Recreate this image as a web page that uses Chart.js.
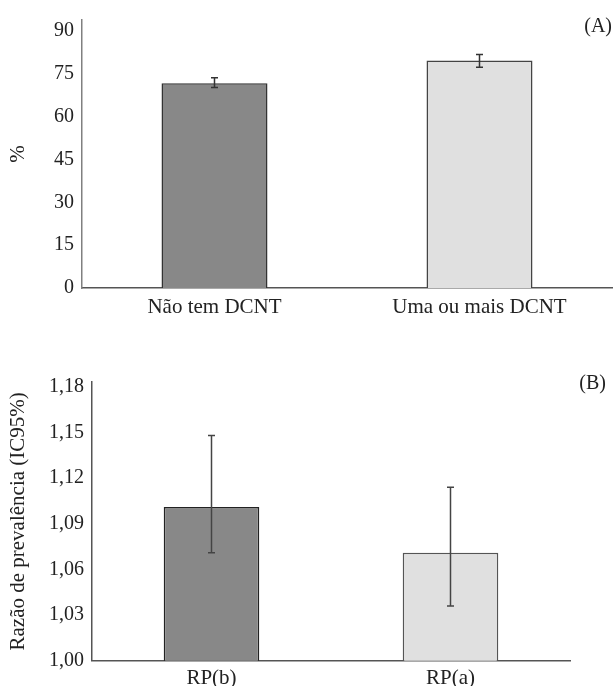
<!DOCTYPE html>
<html>
<head>
<meta charset="utf-8">
<script src="https://cdn.jsdelivr.net/npm/chart.js@4/dist/chart.umd.min.js"></script>
<style>
  html, body { margin: 0; padding: 0; background: #fff; }
  #wrapA { position: absolute; left: 0; top: 0; width: 614px; height: 330px; }
  #wrapB { position: absolute; left: 0; top: 330px; width: 614px; height: 356px; }
</style>
</head>
<body>
<div id="wrapA"><canvas id="chartA"></canvas></div>
<div id="wrapB"><canvas id="chartB"></canvas></div>
<script>
// ---- Data (panel A) ----
const categoriesA = ["Não tem DCNT", "Uma ou mais DCNT"];
const valuesA = [71.7, 79.6];
const lowerA = [70.2, 77.3];
const upperA = [73.6, 81.7];
const yTicksA = [0, 15, 30, 45, 60, 75, 90];
const yTitleA = "%";
const panelA = "(A)";

// ---- Data (panel B) ----
const categoriesB = ["RP(b)", "RP(a)"];
const valuesB = [1.101, 1.071];
const lowerB = [1.071, 1.036];
const upperB = [1.148, 1.114];
const yTicksB = [1.00, 1.03, 1.06, 1.09, 1.12, 1.15, 1.18];
const yTitleB = "Razão de prevalência (IC95%)";
const panelB = "(B)";

Chart.defaults.font.family = "'Liberation Serif', 'Times New Roman', serif";
Chart.defaults.font.size = 19;
Chart.defaults.color = "#222";

const errorBars = {
  id: 'errorBars',
  afterDatasetsDraw(chart, args, opts) {
    const ctx = chart.ctx;
    const meta = chart.getDatasetMeta(0);
    const y = chart.scales.y;
    ctx.save();
    ctx.strokeStyle = opts.color;
    ctx.lineWidth = 1.5;
    meta.data.forEach((bar, i) => {
      const x = bar.x;
      const yl = y.getPixelForValue(opts.lower[i]);
      const yu = y.getPixelForValue(opts.upper[i]);
      ctx.beginPath();
      ctx.moveTo(x, yl); ctx.lineTo(x, yu);
      ctx.moveTo(x - 3.5, yl); ctx.lineTo(x + 3.5, yl);
      ctx.moveTo(x - 3.5, yu); ctx.lineTo(x + 3.5, yu);
      ctx.stroke();
    });
    ctx.restore();
  }
};

const panelLabel = {
  id: 'panelLabel',
  afterDraw(chart, args, opts) {
    const ctx = chart.ctx;
    ctx.save();
    ctx.font = "20px 'Liberation Serif', serif";
    ctx.fillStyle = "#222";
    ctx.textAlign = "right";
    ctx.textBaseline = "middle";
    ctx.fillText(opts.text, chart.width - opts.right, opts.y);
    ctx.restore();
  }
};

function makeChart(id, cats, vals, lo, hi, ticks, yMin, yMax, title, label, cfg) {
  return new Chart(document.getElementById(id), {
    type: 'bar',
    data: {
      labels: cats,
      datasets: [{
        data: vals,
        backgroundColor: ['#888888', '#e0e0e0'],
        borderColor: cfg.barBorders,
        borderWidth: 1.5,
        categoryPercentage: 0.8,
        barPercentage: 0.5
      }]
    },
    options: {
      responsive: true,
      maintainAspectRatio: false,
      animation: false,
      layout: { padding: cfg.padding },
      plugins: {
        legend: { display: false },
        tooltip: { enabled: false },
        errorBars: { lower: lo, upper: hi, color: cfg.errColor },
        panelLabel: { text: label, right: cfg.labelRight, y: cfg.labelY }
      },
      scales: {
        x: {
          grid: { display: false, drawTicks: false },
          border: { color: '#555', width: 1.5 },
          ticks: { padding: cfg.xPad, color: '#222', font: { size: 21 } },
          afterFit(s) { s.height = cfg.xHeight; }
        },
        y: {
          min: yMin, max: yMax,
          grid: { display: false, drawTicks: false },
          border: { color: cfg.yAxisColor, width: 1.5 },
          ticks: {
            padding: 8, color: '#222', font: { size: 20 },
            callback: cfg.fmt
          },
          afterBuildTicks(s) { s.ticks = ticks.map(v => ({ value: v })); },
          title: { display: true, text: title, color: '#222', font: { size: 21 }, padding: { top: 6, bottom: 0 } },
          afterFit(s) { s.width = cfg.yWidth; }
        }
      }
    },
    plugins: [errorBars, panelLabel]
  });
}

makeChart('chartA', categoriesA, valuesA, lowerA, upperA, yTicksA, 0, 93.8, yTitleA, panelA, {
  barBorders: ['#333', '#444'],
  errColor: '#333',
  padding: { left: 0, right: 2, top: 16, bottom: 0 },
  xHeight: 42, xPad: 7, yWidth: 82, yAxisColor: '#808080',
  labelRight: 2, labelY: 27,
  fmt: v => String(v)
});

makeChart('chartB', categoriesB, valuesB, lowerB, upperB, yTicksB, 1.0, 1.1832, yTitleB, panelB, {
  barBorders: ['#222', '#555'],
  errColor: '#444',
  padding: { left: 0, right: 44, top: 52, bottom: 0 },
  xHeight: 25.3, xPad: 5, yWidth: 92, yAxisColor: '#555',
  labelRight: 8, labelY: 54,
  fmt: v => Number(v).toFixed(2).replace('.', ',')
});
</script>
</body>
</html>
